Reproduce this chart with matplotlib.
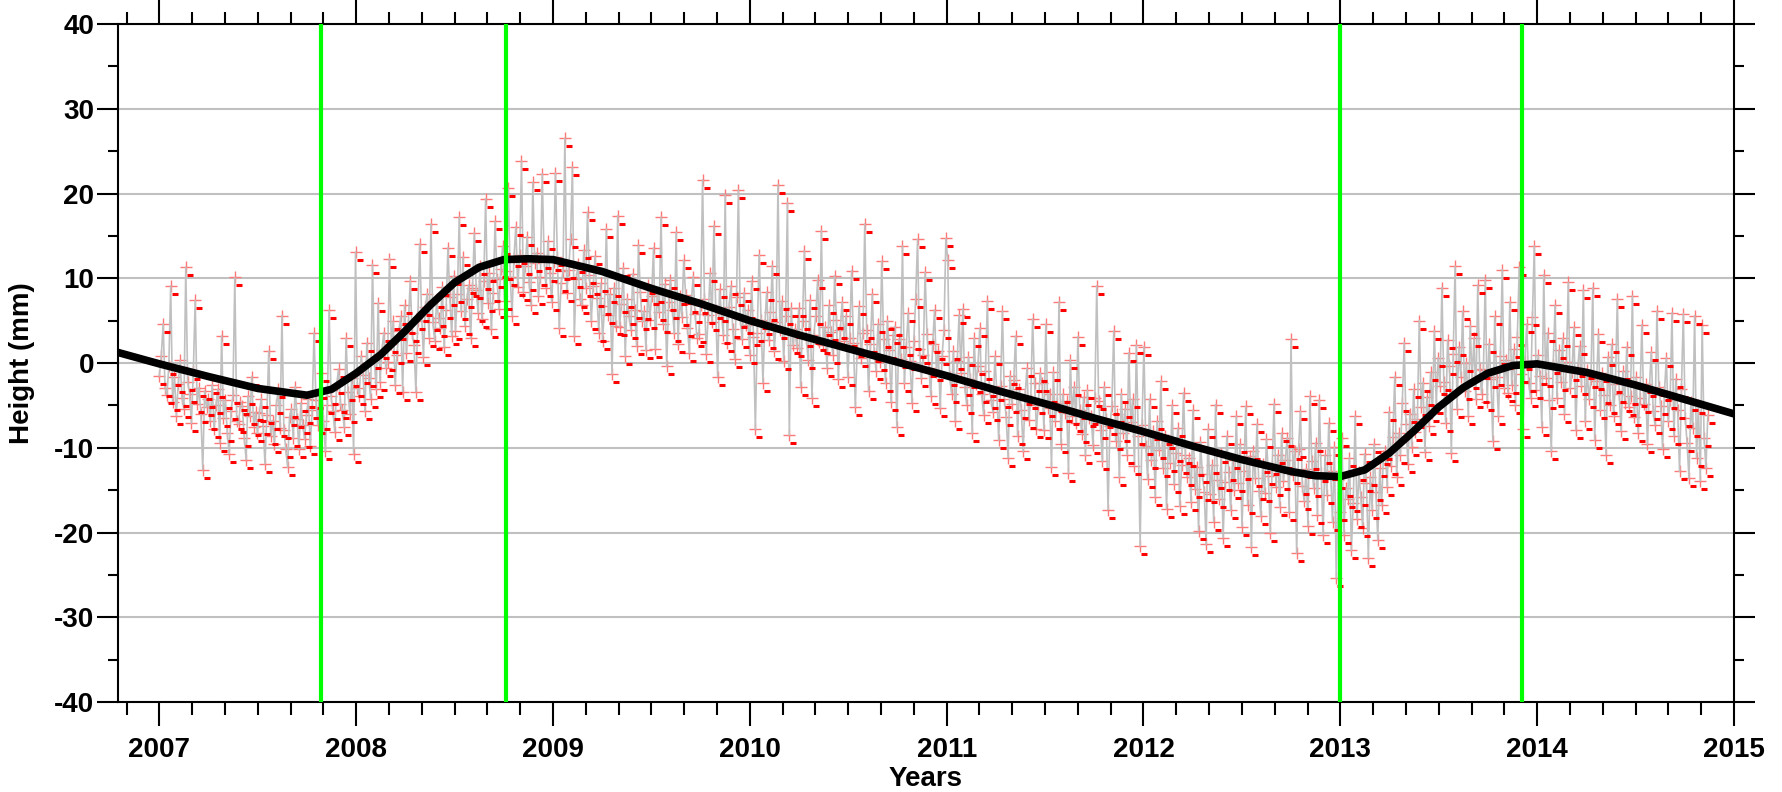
import numpy as np
import matplotlib
matplotlib.use("Agg")
import matplotlib.pyplot as plt
import matplotlib.transforms as mtransforms
from matplotlib.ticker import MultipleLocator

# station heights (mm), two solutions per week, first epoch 2007.0
h2007 = [-1.5, 0.8, 4.6, -2.9, -3.8, -0.4, 9.1, -4.6, -1.7, -6.2, -2.5, 0.3, -4.1,
         -5.4, 11.3, -2.2, -3.6, -7.1, -1.0, 7.4, -4.8, -2.9, -6.0, -12.6, -3.3, -5.2,
         -4.3, -6.8, -2.6, -7.8, -5.0, -3.1, -9.4, 3.2, -6.5, -4.4, -8.2, -10.7, -5.7,
         -3.8, 10.1, -6.9, -7.2, -4.6, -5.1, -8.8, -11.4, -3.9, -6.3, -1.6, -7.5, -5.8,
         -8.3, -5.9, -4.2, -7.4, -11.9, -6.1, 1.4, -8.6, -6.8, -9.6, -5.0, -3.1, -7.7,
         5.6, -7.9, -10.1, -12.3, -6.4, -5.4, -8.9, -2.8, -6.6, -10.2, -4.7, -7.3, -9.0,
         -6.1, -4.3, -9.8, -5.6, 3.5, -4.4, -7.3, -3.2, -1.2, -6.8, -10.4, -4.9, 6.2,
         -3.9, -5.7, -8.1, -2.6, -0.7, -4.8, -5.5, -7.6, 2.9, -3.4, -6.0, -1.8, -10.7]
h2008 = [13.1, -2.9, -3.9, 0.8, -1.4, -5.7, 2.4, -1.8, -4.2, 11.6, 0.3, -3.1, 7.1,
         -2.2, 1.5, 3.6, -0.6, 0.1, 12.3, 2.2, 4.9, -2.6, 1.0, 3.8, 5.5, -3.4,
         6.8, 1.2, 4.5, 9.7, 3.5, 2.1, -3.4, 5.0, 14.1, 5.9, 0.7, 6.6, 8.2,
         3.0, 16.4, 4.8, 2.6, 7.5, 5.3, 4.1, 9.0, 1.9, 6.2, 13.6, 7.8, 3.2,
         10.3, 3.8, 8.1, 17.2, 6.1, 12.5, 4.4, 7.6, 9.2, 2.9, 8.8, 15.3, 8.6,
         5.9, 11.4, 5.2, 9.7, 19.4, 7.1, 10.6, 4.0, 8.3, 16.7, 9.9, 6.4, 11.1,
         13.8, 7.3, 10.9, 20.6, 10.2, 5.6, 12.4, 16.1, 9.0, 12.7, 23.8, 8.4, 11.5,
         14.9, 9.6, 6.8, 21.3, 11.8, 13.0, 7.9, 10.1, 22.3, 12.2, 8.9, 14.4, 10.6]
h2009 = [7.2, 11.9, 22.4, 12.5, 4.1, 9.4, 10.8, 26.5, 8.3, 11.0, 14.6, 23.1, 3.2,
         9.9, 11.7, 7.5, 6.9, 13.3, 8.8, 17.8, 10.4, 5.0, 9.1, 12.6, 7.7, 3.6,
         9.4, 2.6, 6.7, 15.8, 5.7, 8.1, -1.3, 8.9, 4.4, 17.4, 4.3, 7.0, 11.2,
         0.8, 7.6, 5.5, 3.9, 10.5, 6.3, 2.0, 13.9, 8.4, 4.9, 6.1, 1.5, 9.2,
         5.1, 7.9, 13.6, 1.7, 8.2, 6.0, 17.2, 4.6, 9.3, -0.4, 7.2, 9.8, 6.3,
         3.5, 15.4, 2.2, 7.9, 5.4, 12.1, 8.0, 4.1, 1.2, 7.0, 10.2, 5.8, 3.0,
         3.4, 6.9, 21.6, 7.5, 1.1, 5.7, 10.6, 4.8, 16.2, 6.2, -1.6, 8.7, 5.9,
         3.3, 19.8, 2.4, 6.6, 9.1, 4.0, 0.5, 7.8, 20.4, 5.2, 2.8, 8.3, 4.5]
h2010 = [6.2, 0.9, 9.7, 3.1, -7.8, 3.6, 12.8, 5.1, -2.3, 4.4, 8.4, 2.7, 6.0,
         11.5, 1.4, 4.8, 21.0, 3.9, 7.3, 0.2, 5.5, 18.9, -8.5, 6.5, 2.1, 4.0,
         1.8, 6.5, -2.8, 4.9, 13.2, 3.0, 0.3, 7.4, -4.1, 3.3, 5.6, 9.8, 2.5,
         15.6, 2.1, 4.2, -0.6, 6.8, 3.7, 1.0, 10.3, 5.1, -1.9, 3.9, 7.2, 2.6,
         5.6, -1.7, 2.9, 10.9, 2.4, -5.2, 1.8, 6.7, 0.6, 3.5, 16.4, 3.9, -3.3,
         2.2, 8.1, 1.2, -0.9, 4.6, 0.1, 12.0, 2.8, -2.4, 5.0, 1.5, -4.6, 3.3,
         4.3, -7.6, 2.8, 0.5, 13.8, -2.4, 1.9, 5.9, 0.2, -4.7, 2.6, 7.6, 14.6,
         1.7, -1.8, 0.9, 10.7, 3.4, -0.6, -3.9, 2.2, 6.3, -1.1, 1.4, -5.3, 0.8]
h2011 = [3.9, 14.7, 12.2, -1.6, -3.6, 1.4, -6.8, 0.2, 5.7, -1.2, 6.4, -2.8, -4.9,
         0.7, -1.9, -8.3, 2.9, -2.5, -0.4, 4.1, -3.7, -6.1, -1.0, 7.3, -2.9, -4.4,
         -5.8, 0.8, -3.4, -9.1, -2.7, 6.1, -4.2, -6.4, -11.2, -1.5, -4.8, -2.0, 3.2,
         -8.6, -3.1, -5.5, -10.4, -3.9, -0.6, -6.7, -4.4, 5.2, -2.3, -7.8, -5.0, -1.2,
         -2.4, -7.9, 4.6, -5.3, -3.6, -12.3, -1.1, -6.8, -4.7, 7.2, -9.5, -3.7, -5.9,
         -4.5, -13.0, 0.4, -6.2, -2.8, -7.1, 3.1, -5.6, -8.4, -4.0, -10.9, -3.2, -6.5,
         -6.2, -9.7, -4.1, 9.1, -4.5, -7.9, -11.6, -2.8, -6.6, -17.3, -7.4, -5.1, 3.8,
         -9.2, -6.0, -13.5, -3.6, -8.3, -5.4, -10.8, 1.2, -7.0, -4.3, -12.1, 2.1, -8.6]
h2012 = [-21.6, -7.3, 1.9, -9.8, -13.7, -4.2, -11.5, -8.0, -15.8, -6.9, -10.3, -2.1, -12.4,
         -8.6, -17.2, -9.1, -11.8, -5.0, -14.3, -10.6, -7.7, -16.9, -12.0, -3.5, -10.9, -13.4,
         -11.2, -16.4, -5.6, -14.9, -12.3, -19.8, -9.3, -13.1, -15.2, -21.4, -7.8, -15.5, -12.0,
         -18.7, -4.9, -13.8, -16.1, -10.7, -20.6, -14.0, -8.6, -12.9, -17.4, -11.5, -15.0, -6.3,
         -14.2, -9.6, -19.3, -12.8, -5.1, -16.7, -11.0, -21.7, -10.4, -13.6, -7.2, -15.1, -18.1,
         -11.9, -15.3, -9.0, -13.3, -20.0, -12.2, -4.8, -14.6, -10.8, -17.0, -8.3, -13.9, -11.4,
         -8.8, -17.6, 2.8, -13.2, -10.4, -22.4, -10.1, -5.7, -14.5, -16.3, -12.5, -19.2, -3.9,
         -11.6, -14.8, -9.4, -17.9, -4.4, -13.0, -20.3, -10.9, -15.6, -7.1, -12.7, -18.8, -9.9]
h2013 = [-25.4, -13.8, -17.6, -8.9, -20.3, -14.7, -16.0, -11.2, -22.1, -16.5, -6.3, -18.4, -12.9,
         -15.8, -19.5, -10.7, -14.1, -23.0, -13.4, -17.3, -9.6, -15.2, -20.9, -12.4, -16.8, -11.0,
         -10.4, -14.6, -5.8, -12.1, -8.7, -1.6, -13.5, -8.3, -10.8, -4.7, 2.4, -7.2, -11.9,
         -6.0, -9.9, -3.1, -8.1, -6.6, 5.0, -5.2, -2.3, -10.5, -4.0, -7.4, -1.1, -5.9,
         3.8, -4.9, 0.6, -2.7, 8.9, -2.2, -7.1, 2.7, -0.3, -10.6, 1.1, 11.4, -5.4,
         1.9, -1.6, 6.1, -3.3, 0.0, -6.2, 4.4, -2.0, 2.9, -4.3, 9.2, -0.7, -3.6,
         -0.8, 9.8, -4.6, 2.3, -1.9, -9.2, 5.5, -1.7, -6.3, 0.8, 11.0, -3.0, 0.4,
         -3.5, 7.2, -2.6, 1.6, -5.0, 3.1, 11.3, -1.3, -7.8, 0.2, 4.6, -2.4, -4.1]
h2014 = [5.4, 13.8, -3.2, 0.9, -1.5, -7.5, 10.4, -1.8, 3.6, -4.4, -10.4, -0.2, 6.8,
         -4.1, 1.5, -2.2, 2.9, -6.0, 0.1, 9.5, -3.0, -1.1, 4.2, -7.9, -0.6, 2.0,
         -2.7, 8.6, -6.9, -0.8, -4.3, -1.9, 8.9, -9.1, -2.1, 3.4, -5.6, -1.2, -3.8,
         -10.8, 0.7, -4.9, 2.2, -6.3, -2.5, 7.5, -3.6, -8.0, -1.0, -4.7, 1.9, -5.2,
         -3.9, 7.9, -6.4, -1.7, -8.2, -4.1, 4.5, -4.8, -2.5, -9.6, -3.0, 1.3, -5.7,
         -7.3, 6.1, -2.8, -5.1, -10.1, -3.4, 0.6, -6.9, -4.4, 5.9, -8.6, -1.9, -5.5,
         -12.8, -3.1, 5.8, -6.5, -9.4, -13.6, -4.6, -7.7, 5.6, -11.2, -5.0, -13.9, 4.5,
         -8.8, -12.4, -6.1]
first_epoch = 2007.0
step_days = 3.5

# fitted trend model (decimal year, mm)
trend_years = [2006.75, 2007.0, 2007.25, 2007.5, 2007.75, 2007.875, 2008.0, 2008.125,
               2008.25, 2008.375, 2008.5, 2008.625, 2008.75, 2008.875, 2009.0, 2009.25,
               2009.5, 2009.75, 2010.0, 2010.25, 2010.5, 2010.75, 2011.0, 2011.25,
               2011.5, 2011.75, 2012.0, 2012.25, 2012.5, 2012.75, 2012.875, 2013.0,
               2013.125, 2013.25, 2013.375, 2013.5, 2013.625, 2013.75, 2013.875, 2014.0,
               2014.25, 2014.5, 2014.75, 2015.0]
trend_mm = [1.5, -0.1, -1.6, -3.0, -3.8, -3.1, -1.2, 1.0,
            3.8, 6.8, 9.5, 11.3, 12.2, 12.3, 12.2, 10.8,
            8.8, 7.0, 5.0, 3.3, 1.7, 0.1, -1.5, -3.2,
            -4.8, -6.5, -8.1, -9.8, -11.4, -12.8, -13.3, -13.4,
            -12.6, -10.6, -8.0, -5.2, -2.9, -1.2, -0.3, -0.1,
            -1.1, -2.6, -4.3, -6.0]

# epochs of the discontinuities
event_years = [2007.82, 2008.76, 2013.0, 2013.925]

heights = np.array(h2007 + h2008 + h2009 + h2010 + h2011 + h2012 + h2013 + h2014)
epochs = first_epoch + np.arange(len(heights)) * step_days / 365.25

plt.rcParams['font.family'] = ['Liberation Sans', 'DejaVu Sans']
plt.rcParams['font.weight'] = 'bold'
plt.rcParams['axes.labelweight'] = 'bold'
plt.rcParams['axes.unicode_minus'] = False

fig = plt.figure(figsize=(17.83, 7.92), dpi=100)
ax = fig.add_axes([0.0662, 0.1136, 0.9063, 0.8561])

# observations: crosses, connecting line, small offset dash
ax.plot(epochs, heights, linestyle='none', marker='+', markersize=8,
        markeredgewidth=1.0, color='#ff7878', zorder=2)
ax.plot(epochs, heights, color='#c0c0c0', linewidth=1.2, zorder=3)
dash_tr = mtransforms.offset_copy(ax.transData, fig=fig, x=4, y=-8, units='dots')
ax.plot(epochs, heights, linestyle='none', marker='_', markersize=4,
        markeredgewidth=2.2, color='#ff0000', transform=dash_tr, zorder=4)

# trend model
ax.plot(trend_years, trend_mm, color='black', linewidth=5.5,
        solid_capstyle='round', solid_joinstyle='round', zorder=5)

for yr in event_years:
    ax.axvline(yr, color='#00ff00', linewidth=3, zorder=6)

ax.set_xlim(2006.79, 2015.0)
ax.set_ylim(-40, 40)
ax.xaxis.set_major_locator(MultipleLocator(1))
ax.xaxis.set_minor_locator(MultipleLocator(1 / 6))
ax.yaxis.set_major_locator(MultipleLocator(10))
ax.yaxis.set_minor_locator(MultipleLocator(5))

ax.yaxis.grid(True, which='major', color='#c0c0c0', linewidth=1.5, zorder=1)
ax.set_axisbelow(True)

ax.tick_params(which='both', direction='out', top=True, right=True,
               labeltop=False, labelright=False, width=1.5, labelsize=20)
ax.tick_params(axis='x', which='major', length=17, pad=8)
ax.tick_params(axis='x', which='minor', length=9)
ax.tick_params(axis='y', which='major', length=15, pad=2)
ax.tick_params(axis='y', which='minor', length=7)
for lab in ax.get_xticklabels() + ax.get_yticklabels():
    lab.set_fontweight('bold')

for sp in ax.spines.values():
    sp.set_linewidth(1.5)

ax.set_xlabel('Years', fontsize=20, fontweight='bold', labelpad=2)
ax.set_ylabel('Height (mm)', fontsize=20, fontweight='bold', labelpad=14)

fig.savefig('out.png', dpi=100)
